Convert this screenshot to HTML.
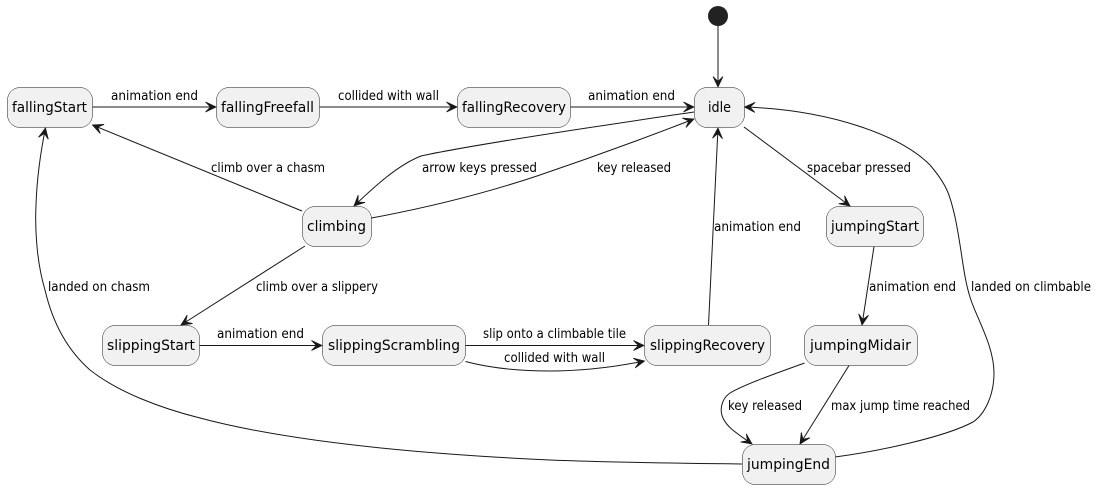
<!DOCTYPE html>
<html><head><meta charset="utf-8">
<style>
html,body{margin:0;padding:0;background:#fff;width:1097px;height:489px;overflow:hidden}
svg{display:block}
.e{fill:none;stroke:#181818;stroke-width:1;marker-end:url(#a)}
rect{fill:#F1F1F1;stroke:#181818;stroke-width:.5}
text{font-family:"DejaVu Sans","Liberation Sans",sans-serif;fill:#000}
.l{font-size:13px}
.t{font-size:14px}
</style></head><body>
<svg width="1097" height="489" viewBox="0 0 1097 489" xmlns="http://www.w3.org/2000/svg">
<defs><marker id="a" markerUnits="userSpaceOnUse" markerWidth="16" markerHeight="14" refX="12" refY="7" orient="auto" overflow="visible"><path d="M12,7 L1.5,2 L6.5,7 L1.5,12 Z" fill="#181818" stroke="#181818" stroke-width=".8"/></marker></defs>
<circle cx="718" cy="16" r="10" fill="#222222"/>
<path class="e" d="M718,26 L718,87"/>
<path class="e" d="M92.5,107 L216,107"/>
<path class="e" d="M319.5,107 L457,107"/>
<path class="e" d="M570.5,107 L694,107"/>
<path class="e" d="M694,112 C640,120 480,143 421,156 C398,165 375,186 354,206"/>
<path class="e" d="M371.5,218 C420,209 480,195 537,176 C590,158 650,136 694,119"/>
<path class="e" d="M302,211 L92.5,125"/>
<path class="e" d="M305,246 L181,325"/>
<path class="e" d="M199.5,345.5 L322,345.5"/>
<path class="e" d="M465.5,345.5 L644,345.5"/>
<path class="e" d="M465.5,361.5 C490,368 520,371 550,371 C585,371 615,367 644.5,361"/>
<path class="e" d="M708.5,325 L718,128"/>
<path class="e" d="M744,127 L850,206"/>
<path class="e" d="M874,246.5 L862,325"/>
<path class="e" d="M804.5,363 C780,372 745,384 730,393 C720,400 720,412 723,418 C727,427 735,432 752,444"/>
<path class="e" d="M849,365.5 L800,444"/>
<path class="e" d="M835,457 C880,451 945,437 973,422 C985,414 994,395 994,373 C994,345 975,315 970,297 C963,275 962,250 955,217 C950,195 947,185 930,165 C900,135 830,110 744.5,107"/>
<path class="e" d="M742,464 C650,463 600,462 550,460 C420,454 290,442 200,418 C160,408 118,392 90,370 C65,348 52,320 45,290 C36,260 35,225 36,205 C37,175 41,150 45.5,128"/>
<rect x="7.5" y="87.5" width="85" height="40" rx="12.5" ry="12.5"/>
<rect x="216.5" y="87.5" width="103" height="40" rx="12.5" ry="12.5"/>
<rect x="457.5" y="87.5" width="113" height="40" rx="12.5" ry="12.5"/>
<rect x="694.5" y="87.5" width="50" height="40" rx="12.5" ry="12.5"/>
<rect x="302.5" y="206.5" width="69" height="40" rx="12.5" ry="12.5"/>
<rect x="826.5" y="206.5" width="97" height="40" rx="12.5" ry="12.5"/>
<rect x="102.5" y="325.5" width="97" height="40" rx="12.5" ry="12.5"/>
<rect x="322.5" y="325.5" width="143" height="40" rx="12.5" ry="12.5"/>
<rect x="644.5" y="325.5" width="126" height="40" rx="12.5" ry="12.5"/>
<rect x="804.5" y="325.5" width="113" height="40" rx="12.5" ry="12.5"/>
<rect x="742.5" y="444.5" width="93" height="40" rx="12.5" ry="12.5"/>
<text class="t" x="12" y="112" textLength="75" lengthAdjust="spacingAndGlyphs">fallingStart</text>
<text class="t" x="221" y="112" textLength="93" lengthAdjust="spacingAndGlyphs">fallingFreefall</text>
<text class="t" x="462" y="112" textLength="104" lengthAdjust="spacingAndGlyphs">fallingRecovery</text>
<text class="t" x="708" y="112" textLength="23" lengthAdjust="spacingAndGlyphs">idle</text>
<text class="t" x="307" y="231" textLength="59" lengthAdjust="spacingAndGlyphs">climbing</text>
<text class="t" x="831" y="231" textLength="88" lengthAdjust="spacingAndGlyphs">jumpingStart</text>
<text class="t" x="107" y="350" textLength="88" lengthAdjust="spacingAndGlyphs">slippingStart</text>
<text class="t" x="328" y="350" textLength="132" lengthAdjust="spacingAndGlyphs">slippingScrambling</text>
<text class="t" x="650" y="350" textLength="115" lengthAdjust="spacingAndGlyphs">slippingRecovery</text>
<text class="t" x="810" y="350" textLength="101" lengthAdjust="spacingAndGlyphs">jumpingMidair</text>
<text class="t" x="747" y="469" textLength="83" lengthAdjust="spacingAndGlyphs">jumpingEnd</text>
<text class="l" x="111" y="100" textLength="87" lengthAdjust="spacingAndGlyphs">animation end</text>
<text class="l" x="338" y="100" textLength="101" lengthAdjust="spacingAndGlyphs">collided with wall</text>
<text class="l" x="588" y="100" textLength="87" lengthAdjust="spacingAndGlyphs">animation end</text>
<text class="l" x="211" y="172" textLength="114" lengthAdjust="spacingAndGlyphs">climb over a chasm</text>
<text class="l" x="422" y="172" textLength="115" lengthAdjust="spacingAndGlyphs">arrow keys pressed</text>
<text class="l" x="597" y="172" textLength="74" lengthAdjust="spacingAndGlyphs">key released</text>
<text class="l" x="807" y="172" textLength="104" lengthAdjust="spacingAndGlyphs">spacebar pressed</text>
<text class="l" x="714" y="231" textLength="87" lengthAdjust="spacingAndGlyphs">animation end</text>
<text class="l" x="48" y="291" textLength="102" lengthAdjust="spacingAndGlyphs">landed on chasm</text>
<text class="l" x="256" y="291" textLength="122" lengthAdjust="spacingAndGlyphs">climb over a slippery</text>
<text class="l" x="869" y="291" textLength="87" lengthAdjust="spacingAndGlyphs">animation end</text>
<text class="l" x="971" y="291" textLength="120" lengthAdjust="spacingAndGlyphs">landed on climbable</text>
<text class="l" x="217" y="338" textLength="87" lengthAdjust="spacingAndGlyphs">animation end</text>
<text class="l" x="483" y="338" textLength="143" lengthAdjust="spacingAndGlyphs">slip onto a climbable tile</text>
<text class="l" x="504" y="362" textLength="101" lengthAdjust="spacingAndGlyphs">collided with wall</text>
<text class="l" x="728" y="410" textLength="74" lengthAdjust="spacingAndGlyphs">key released</text>
<text class="l" x="831" y="410" textLength="139" lengthAdjust="spacingAndGlyphs">max jump time reached</text>
</svg>
</body></html>
